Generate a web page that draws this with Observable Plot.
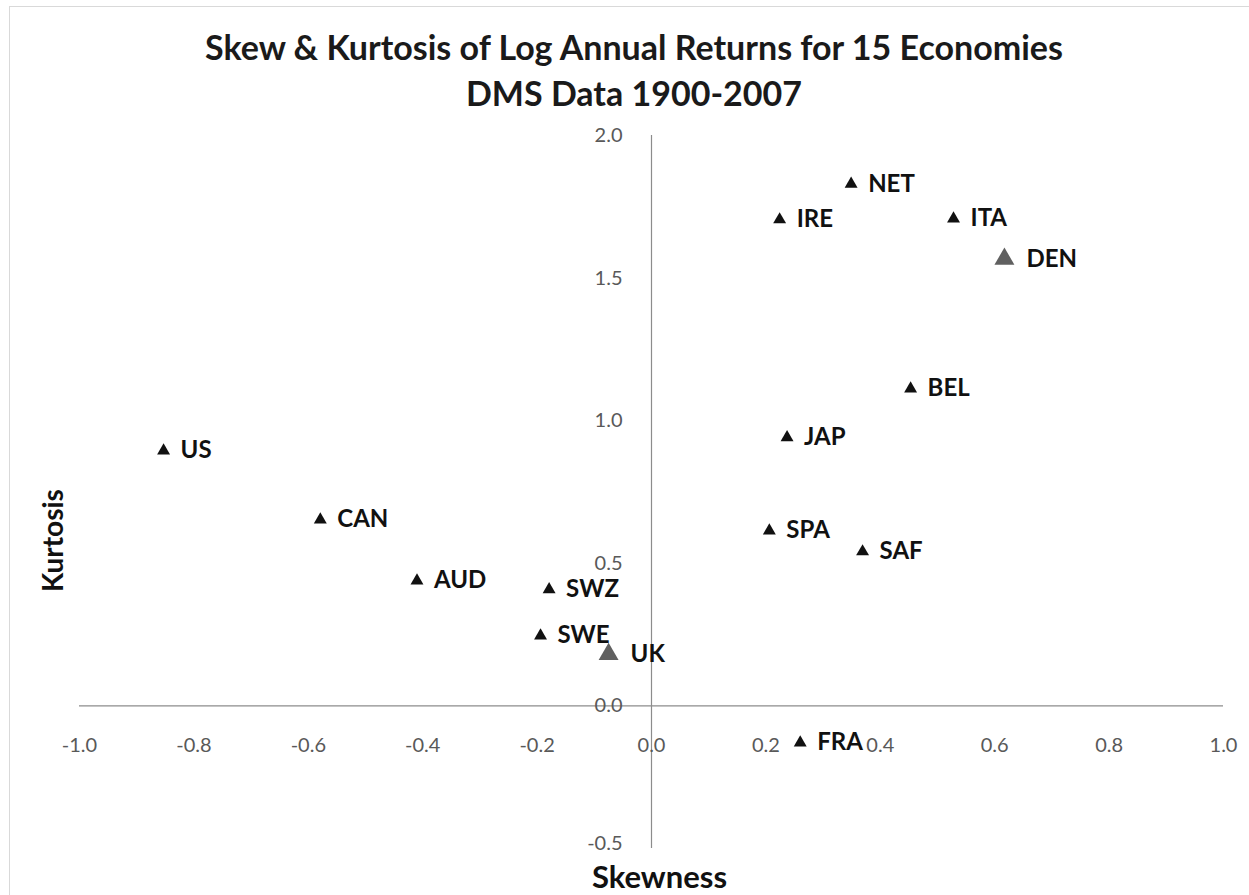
<!DOCTYPE html>
<html>
<head>
<meta charset="utf-8">
<script src="https://cdn.jsdelivr.net/npm/d3@7"></script>
<script src="https://cdn.jsdelivr.net/npm/@observablehq/plot@0.6"></script>
<style>
  html, body { margin: 0; padding: 0; background: #fff; }
  #wrap { position: relative; width: 1249px; height: 895px; overflow: hidden; }
  #frame { position: absolute; left: 9px; top: 6px; width: 1400px; height: 1000px;
           border-left: 1px solid #d9d9d9; border-top: 1px solid #d9d9d9; pointer-events: none; }
  #title { height: 110px; box-sizing: border-box; padding-top: 24px; padding-left: 19px; text-align: center;
           font-family: Lato, sans-serif; font-weight: bold; font-size: 34px; line-height: 46px;
           color: #1a1a1a; }
  #chart svg { display: block; }
</style>
</head>
<body>
<div id="wrap">
  <div id="frame"></div>
  <div id="title">Skew &amp; Kurtosis of Log Annual Returns for 15 Economies<br>DMS Data 1900-2007</div>
  <div id="chart"></div>
</div>
<script>
const economies = ["US","CAN","AUD","SWZ","SWE","UK","FRA","SPA","SAF","JAP","BEL","IRE","NET","ITA","DEN"];
const skewness  = [-0.853,-0.579,-0.410,-0.179,-0.194,-0.075,0.260,0.206,0.369,0.237,0.453,0.224,0.349,0.528,0.617];
const kurtosis  = [0.895,0.653,0.439,0.408,0.246,0.181,-0.129,0.614,0.541,0.941,1.112,1.705,1.830,1.708,1.567];
const highlighted = ["UK","DEN"];
const xTicks = [-1.0,-0.8,-0.6,-0.4,-0.2,0.0,0.2,0.4,0.6,0.8,1.0];
const yTicks = [-0.5,0.0,0.5,1.0,1.5,2.0];
const xTitle = "Skewness";
const yTitle = "Kurtosis";

const data = economies.map((name, i) => ({
  name, skew: skewness[i], kurt: kurtosis[i], hi: highlighted.includes(name)
}));
const normal = data.filter(d => !d.hi);
const special = data.filter(d => d.hi);
const yMin = d3.min(yTicks);

const tickFont = {fontFamily: "Lato, sans-serif", fontSize: 20, fill: "#595959"};
const labelFont = {fontFamily: "Lato, sans-serif", fontSize: 24, fontWeight: "bold", fill: "#111"};

const chart = Plot.plot({
  width: 1249,
  height: 785,
  marginTop: 25,
  marginBottom: 47,
  marginLeft: 79,
  marginRight: 26,
  x: {domain: [-1, 1], axis: null},
  y: {domain: [-0.5, 2], axis: null},
  marks: [
    Plot.ruleY([0], {stroke: "#8c8c8c", strokeWidth: 1.2}),
    Plot.ruleX([0], {stroke: "#8c8c8c", strokeWidth: 1.2}),
    Plot.text(xTicks, {x: d => d, y: () => 0, dy: 40, text: d => d.toFixed(1), ...tickFont}),
    Plot.text(yTicks.filter(d => d !== yMin), {y: d => d, x: () => 0, dx: -29, textAnchor: "end", text: d => d.toFixed(1), ...tickFont}),
    Plot.text(yTicks.filter(d => d === yMin), {y: d => d, x: () => 0, dx: -29, dy: -5, textAnchor: "end", text: d => d.toFixed(1), ...tickFont}),
    Plot.dot(normal, {x: "skew", y: "kurt", symbol: "triangle", r: 4.8, fill: "#111", stroke: null}),
    Plot.dot(special, {x: "skew", y: "kurt", symbol: "triangle", r: 7.4, fill: "#606060", stroke: null}),
    Plot.text(normal, {x: "skew", y: "kurt", text: "name", dx: 17, textAnchor: "start", ...labelFont}),
    Plot.text(special, {x: "skew", y: "kurt", text: "name", dx: 22, textAnchor: "start", ...labelFont}),
    Plot.text([xTitle], {x: () => 0, y: () => -0.5, dy: 30, dx: 8, textAnchor: "middle", text: d => d,
      fontFamily: "Lato, sans-serif", fontSize: 31, fontWeight: "bold", fill: "#111"}),
    Plot.text([yTitle], {frameAnchor: "left", y: () => 0.58, dx: -25, rotate: -90, textAnchor: "middle", text: d => d,
      fontFamily: "Lato, sans-serif", fontSize: 28, fontWeight: "bold", fill: "#111"})
  ]
});
document.getElementById("chart").appendChild(chart);
</script>
</body>
</html>
